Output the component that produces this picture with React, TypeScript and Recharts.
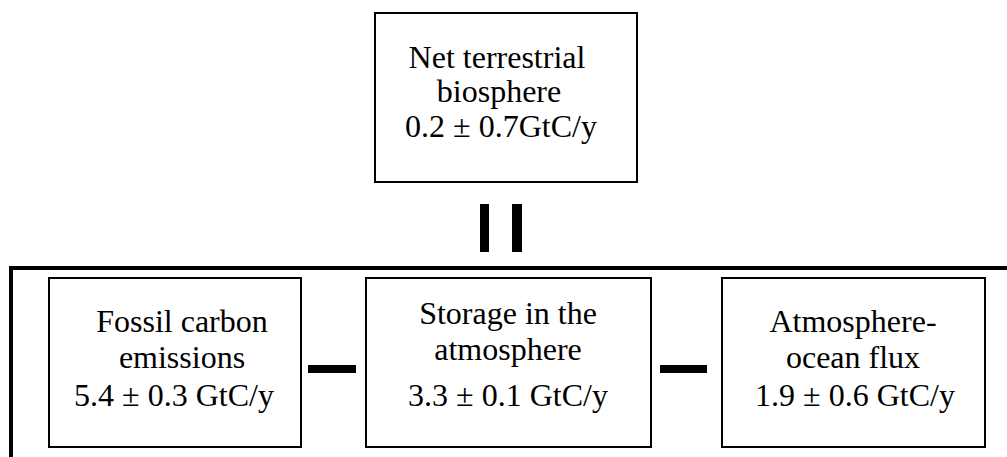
import { ScatterChart, XAxis, YAxis, ReferenceArea, ReferenceLine, Scatter } from 'recharts';

// carbon budget terms (GtC/y)
const fluxNames = [
  ['Net terrestrial', 'biosphere'],
  ['Fossil carbon', 'emissions'],
  ['Storage in the', 'atmosphere'],
  ['Atmosphere-', 'ocean flux'],
];
const fluxValues = [0.2, 5.4, 3.3, 1.9];
const fluxErrors = [0.7, 0.3, 0.1, 0.6];
const unitLabel = 'GtC/y';

// diagram layout, in page pixels
const W = 1007;
const H = 457;
const FONT = '"Liberation Serif", "Times New Roman", Times, serif';

const boxLayout = [
  { x1: 375, x2: 637, y1: 13, y2: 182, cx: [497, 499, 501], base: [68, 102, 137], gap: '' },
  { x1: 49, x2: 301, y1: 278, y2: 447, cx: [182, 182, 174], base: [332, 368, 406], gap: ' ' },
  { x1: 366, x2: 651, y1: 278, y2: 447, cx: [508, 508, 508], base: [324, 360, 406], gap: ' ' },
  { x1: 722, x2: 985, y1: 278, y2: 447, cx: [853, 853, 855], base: [332, 368, 406], gap: ' ' },
];

const solidBlocks = [
  { x1: 480, x2: 489, y1: 204, y2: 252 },
  { x1: 512, x2: 522, y1: 204, y2: 252 },
  { x1: 308, x2: 356, y1: 365, y2: 373 },
  { x1: 660, x2: 707, y1: 365, y2: 373 },
];

const BoxText = ({ viewBox, idx }: any) => {
  const box = boxLayout[idx];
  const dx = (viewBox?.x ?? box.x1) - box.x1;
  const dy = (viewBox?.y ?? box.y1) - box.y1;
  const lines = [
    ...fluxNames[idx],
    `${fluxValues[idx].toFixed(1)} \u00b1 ${fluxErrors[idx].toFixed(1)}${box.gap}${unitLabel}`,
  ];
  return (
    <g>
      {lines.map((t, i) => (
        <text
          key={i}
          x={box.cx[i] + dx}
          y={box.base[i] + dy}
          textAnchor="middle"
          style={{ fontFamily: FONT, fontSize: 32 }}
          fill="#000"
        >
          {t}
        </text>
      ))}
    </g>
  );
};

export default function App() {
  return (
    <div style={{ position: 'absolute', left: 0, top: 0, width: W, height: H, background: '#fff' }}>
      <ScatterChart width={W} height={H} margin={{ top: 0, right: 0, bottom: 0, left: 0 }}>
        <XAxis type="number" dataKey="x" domain={[0, W]} hide allowDataOverflow />
        <YAxis type="number" dataKey="y" domain={[0, H]} reversed hide allowDataOverflow />
        <Scatter data={[]} isAnimationActive={false} />
        {boxLayout.map((b, i) => (
          <ReferenceArea
            key={`box-${i}`}
            x1={b.x1}
            x2={b.x2}
            y1={b.y1}
            y2={b.y2}
            fill="#fff"
            fillOpacity={1}
            stroke="#000"
            strokeWidth={2}
            ifOverflow="visible"
            label={<BoxText idx={i} />}
          />
        ))}
        {solidBlocks.map((b, i) => (
          <ReferenceArea
            key={`blk-${i}`}
            x1={b.x1}
            x2={b.x2}
            y1={b.y1}
            y2={b.y2}
            fill="#000"
            fillOpacity={1}
            stroke="none"
            ifOverflow="visible"
          />
        ))}
        <ReferenceLine
          segment={[{ x: 11, y: 268 }, { x: W, y: 268 }]}
          stroke="#000"
          strokeWidth={4}
          ifOverflow="visible"
        />
        <ReferenceLine
          segment={[{ x: 11, y: 266 }, { x: 11, y: H }]}
          stroke="#000"
          strokeWidth={4}
          ifOverflow="visible"
        />
      </ScatterChart>
    </div>
  );
}
